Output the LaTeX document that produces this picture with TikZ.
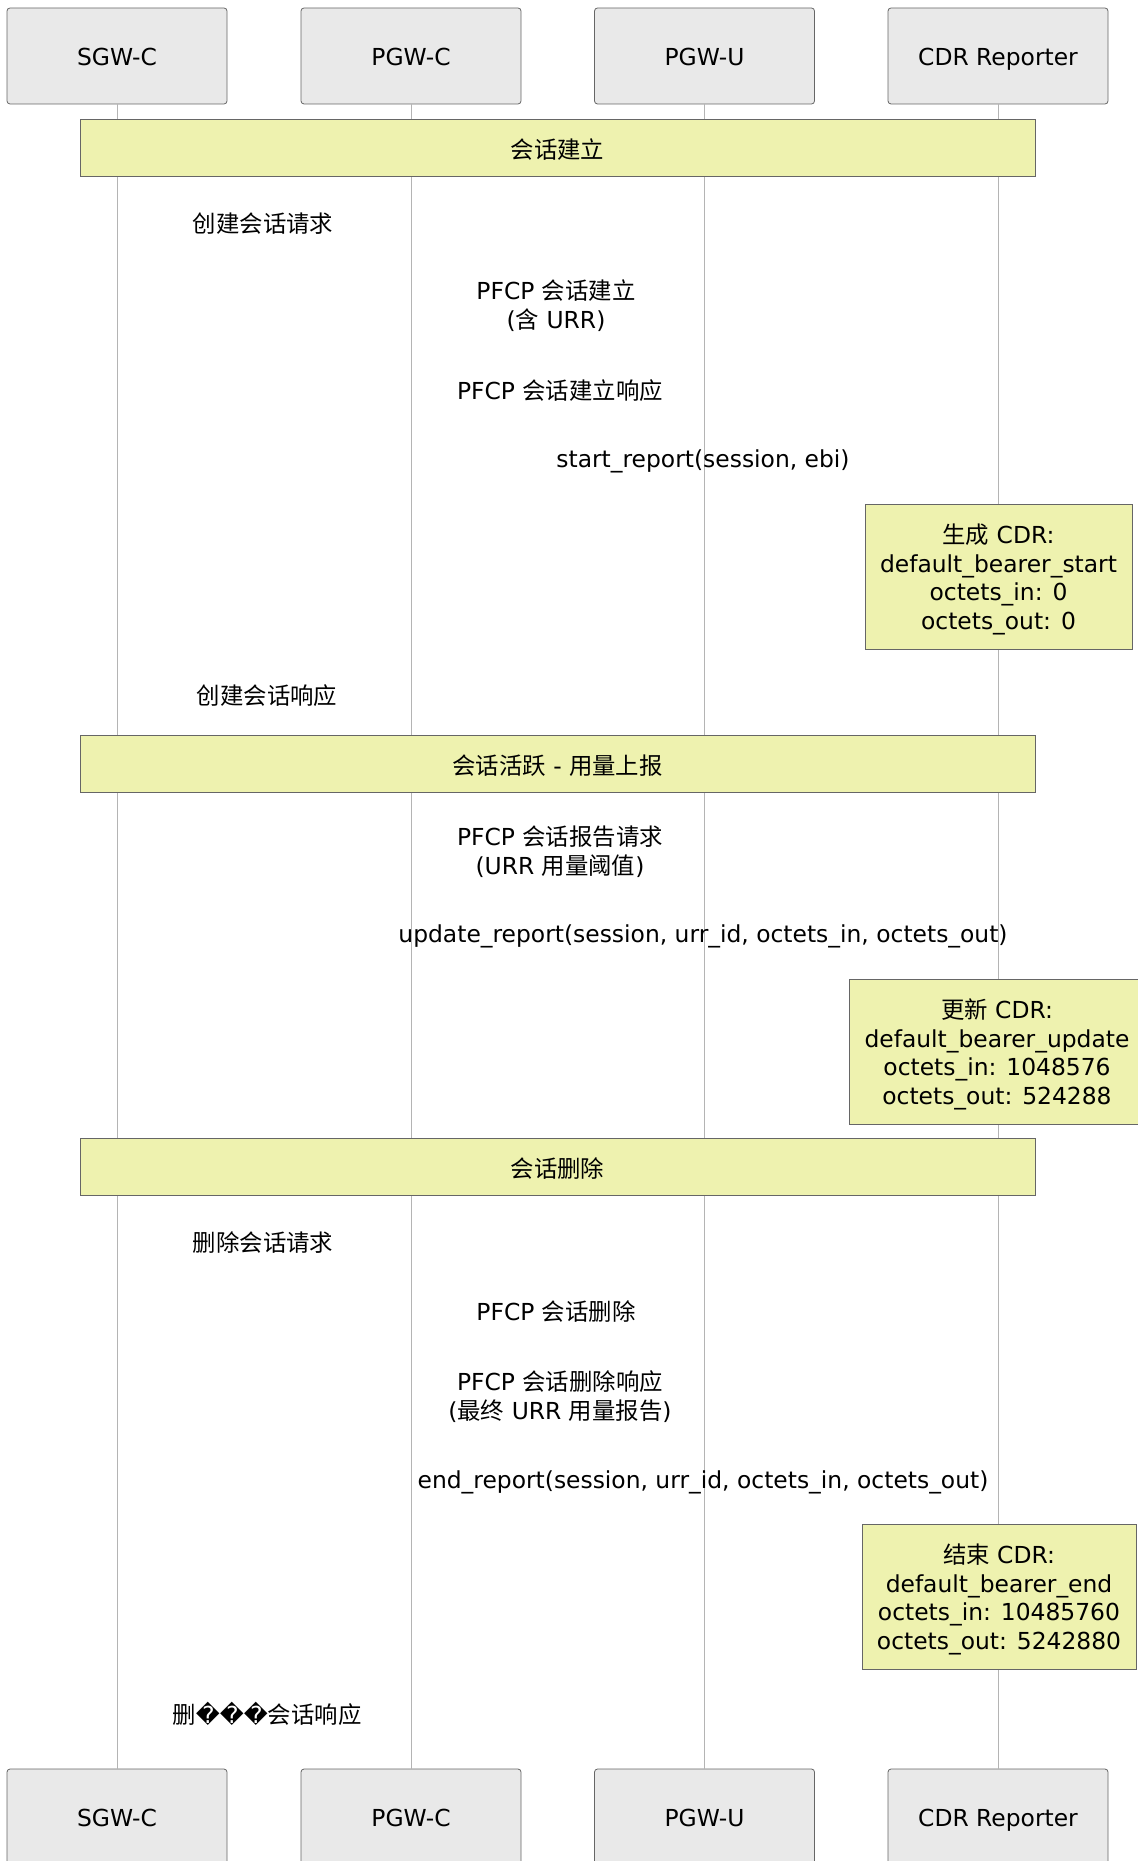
\documentclass[tikz,border=0pt]{standalone}
\usepackage{fontspec}
\usepackage{xcolor}
\usepackage{tikz}
\usetikzlibrary{positioning}
\setmainfont{DejaVu Sans}
\newfontfamily\cjk{Noto Sans CJK SC}
\newcommand{\zh}[1]{{\cjk #1}}
\newcommand{\notetop}{\rule{0pt}{12.8pt}}

\definecolor{partfill}{HTML}{E9E9E9}
\definecolor{partline}{HTML}{666666}
\definecolor{notefill}{HTML}{EEF2AF}
\definecolor{lifeline}{HTML}{B4B4B4}

\begin{document}
\begin{tikzpicture}[
        x=0.5pt, y=-0.5pt,
        every node/.style={font=\fontsize{11.7}{14.25}\selectfont},
        part/.style={draw=partline, fill=partfill, rounded corners=1.5pt, minimum width=110pt, minimum height=48pt, inner sep=0pt, text height=9.7pt, text depth=0pt},
        divider/.style={draw=partline, fill=notefill, minimum width=477.5pt, minimum height=28.5pt, inner sep=0pt, text height=11.4pt, text depth=0pt},
        cdrnote/.style={draw=partline, fill=notefill, align=center, minimum height=72.5pt, inner xsep=7.5pt, inner ysep=0pt},
        msg/.style={align=center, inner sep=0pt},
        life/.style={draw=lifeline, line width=0.5pt},
    ]
        \useasboundingbox (0,0) rectangle (1137,1861);

        % participants, top and bottom
        \node [part] (sgwc) at (117,56) {SGW-C};
        \node [part] (pgwc) at (411,56) {PGW-C};
        \node [part] (pgwu) at (704.5,56) {PGW-U};
        \node [part] (cdr) at (998,56) {CDR Reporter};
        \node [part] (sgwcB) at (117,1817) {SGW-C};
        \node [part] (pgwcB) at (411,1817) {PGW-C};
        \node [part] (pgwuB) at (704.5,1817) {PGW-U};
        \node [part] (cdrB) at (998,1817) {CDR Reporter};

        \draw [life] (sgwc) -- (sgwcB);
        \draw [life] (pgwc) -- (pgwcB);
        \draw [life] (pgwu) -- (pgwuB);
        \draw [life] (cdr) -- (cdrB);

        % session setup
        \node [divider] (setup) at (557.5,147.5) {\zh{会话建立}};
        \node [msg] (csreq) at (263,223.2) {\zh{创建会话请求}};
        \node [msg] (estreq) at (556,305.7) {PFCP \zh{会话建立}\\(\zh{含} URR)};
        \node [msg] (estrsp) at (560,390.2) {PFCP \zh{会话建立响应}};
        \node [msg] (startrep) at (703,461.5) {start\_report(session, ebi)};
        \node [cdrnote] (note1) at (998.5,576.5) {\notetop\zh{生成} CDR:\\default\_bearer\_start\\octets\_in: 0\\octets\_out: 0};
        \node [msg] (csrsp) at (267,695.2) {\zh{创建会话响应}};

        % active session, usage reports
        \node [divider] (active) at (557.5,763.5) {\zh{会话活跃} - \zh{用量上报}};
        \node [msg] (repreq) at (560,851.7) {PFCP \zh{会话报告请求}\\(URR \zh{用量阈值})};
        \node [msg] (updrep) at (703,936.5) {update\_report(session, urr\_id, octets\_in, octets\_out)};
        \node [cdrnote] (note2) at (997,1051.5) {\notetop\zh{更新} CDR:\\default\_bearer\_update\\octets\_in: 1048576\\octets\_out: 524288};

        % session teardown
        \node [divider] (teardown) at (557.5,1166.5) {\zh{会话删除}};
        \node [msg] (dsreq) at (263,1242.2) {\zh{删除会话请求}};
        \node [msg] (delreq) at (556,1311.2) {PFCP \zh{会话删除}};
        \node [msg] (delrsp) at (560,1396.7) {PFCP \zh{会话删除响应}\\(\zh{最终} URR \zh{用量报告})};
        \node [msg] (endrep) at (703,1482.5) {end\_report(session, urr\_id, octets\_in, octets\_out)};
        \node [cdrnote] (note3) at (999,1596.5) {\notetop\zh{结束} CDR:\\default\_bearer\_end\\octets\_in: 10485760\\octets\_out: 5242880};
        \node [msg] (dsrsp) at (267,1714) {\zh{删}���\zh{会话响应}};
    \end{tikzpicture}
\end{document}
